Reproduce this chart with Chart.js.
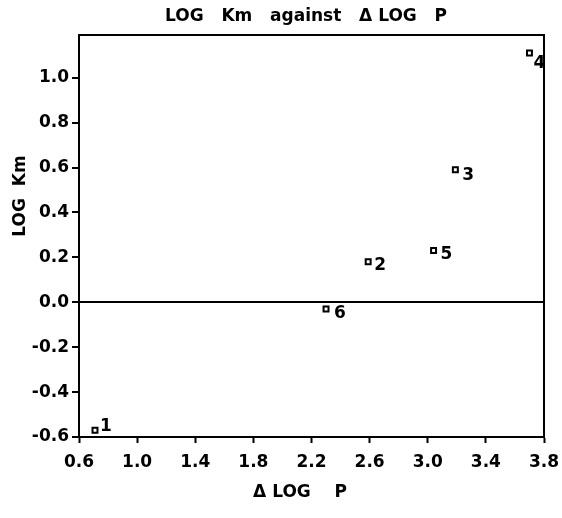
<!DOCTYPE html>
<html>
<head>
<meta charset="utf-8">
<script src="https://cdn.jsdelivr.net/npm/chart.js@4/dist/chart.umd.min.js"></script>
<style>
  body { margin: 0; background: #fff; }
  canvas { display: block; }
</style>
</head>
<body>
<canvas id="chart" width="562" height="518"></canvas>
<script>
// data
const pointNames = ["1", "2", "3", "4", "5", "6"];
const deltaLogP = [0.71, 2.59, 3.19, 3.70, 3.04, 2.30];
const logKm = [-0.57, 0.18, 0.59, 1.11, 0.23, -0.03];
const xTicks = [0.6, 1.0, 1.4, 1.8, 2.2, 2.6, 3.0, 3.4, 3.8];
const yTicks = [-0.6, -0.4, -0.2, 0.0, 0.2, 0.4, 0.6, 0.8, 1.0];

// where each number sits next to its marker
const nameOffsets = [[5, -4], [6, 4], [7, 6], [4, 11], [7, 4], [8, 5]];

const FONT = "'DejaVu Sans', Arial, sans-serif";

// box round the plot + number labels + titles
const extras = {
  id: "extras",
  afterDatasetsDraw(chart) {
    const ctx = chart.ctx;
    const a = chart.chartArea;
    ctx.save();
    ctx.strokeStyle = "#000";
    ctx.lineWidth = 2;
    ctx.strokeRect(a.left, a.top, a.right - a.left, a.bottom - a.top);

    ctx.fillStyle = "#000";
    ctx.font = "bold 17px " + FONT;
    ctx.textAlign = "left";
    ctx.textBaseline = "middle";
    const meta = chart.getDatasetMeta(0);
    meta.data.forEach((pt, i) => {
      const off = nameOffsets[i];
      ctx.fillText(pointNames[i], pt.x + off[0], pt.y + off[1]);
    });

    ctx.font = "bold 17px " + FONT;
    ctx.textAlign = "center";
    ctx.fillText("LOG   Km   against   \u0394 LOG   P", 306, 17);
    ctx.fillText("\u0394 LOG    P", 300, 493);

    ctx.translate(21, 196);
    ctx.rotate(-Math.PI / 2);
    ctx.fillText("LOG  Km", 0, 0);
    ctx.restore();
  }
};

new Chart(document.getElementById("chart"), {
  type: "scatter",
  data: {
    datasets: [{
      data: deltaLogP.map((x, i) => ({ x: x, y: logKm[i] })),
      pointStyle: "rect",
      pointRadius: 3.5,
      borderWidth: 2,
      borderColor: "#000",
      backgroundColor: "#fff"
    }]
  },
  options: {
    responsive: false,
    animation: false,
    layout: { padding: { top: 35, right: 18, left: 0, bottom: 0 } },
    plugins: {
      legend: { display: false },
      tooltip: { enabled: false }
    },
    scales: {
      x: {
        type: "linear",
        min: 0.6,
        max: 3.8,
        afterBuildTicks: axis => { axis.ticks = xTicks.map(v => ({ value: v })); },
        afterFit: axis => {
          axis.height = 81;
          // labels may hang past the plot edge, don't shrink the plot for them
          axis.paddingLeft = 0;
          axis.paddingRight = 0;
        },
        border: { color: "#000", width: 2 },
        grid: { drawOnChartArea: false, tickLength: 6, tickColor: "#000", tickWidth: 2 },
        ticks: {
          color: "#000",
          padding: 9,
          maxRotation: 0,
          font: { family: FONT, size: 17, weight: "bold" },
          callback: v => v.toFixed(1)
        }
      },
      y: {
        type: "linear",
        min: -0.6,
        max: 1.19,
        afterBuildTicks: axis => { axis.ticks = yTicks.map(v => ({ value: v })); },
        afterFit: axis => {
          axis.width = 79;
          axis.paddingTop = 0;
          axis.paddingBottom = 0;
        },
        border: { color: "#000", width: 2 },
        grid: {
          tickLength: 7,
          tickColor: "#000",
          tickWidth: 2,
          lineWidth: 2,
          // only the zero line is drawn across the plot
          color: c => (c.tick && Math.abs(c.tick.value) < 1e-9 ? "#000" : "rgba(0,0,0,0)")
        },
        ticks: {
          color: "#000",
          padding: 3,
          font: { family: FONT, size: 17, weight: "bold" },
          callback: v => v.toFixed(1)
        }
      }
    }
  },
  plugins: [extras]
});
</script>
</body>
</html>
